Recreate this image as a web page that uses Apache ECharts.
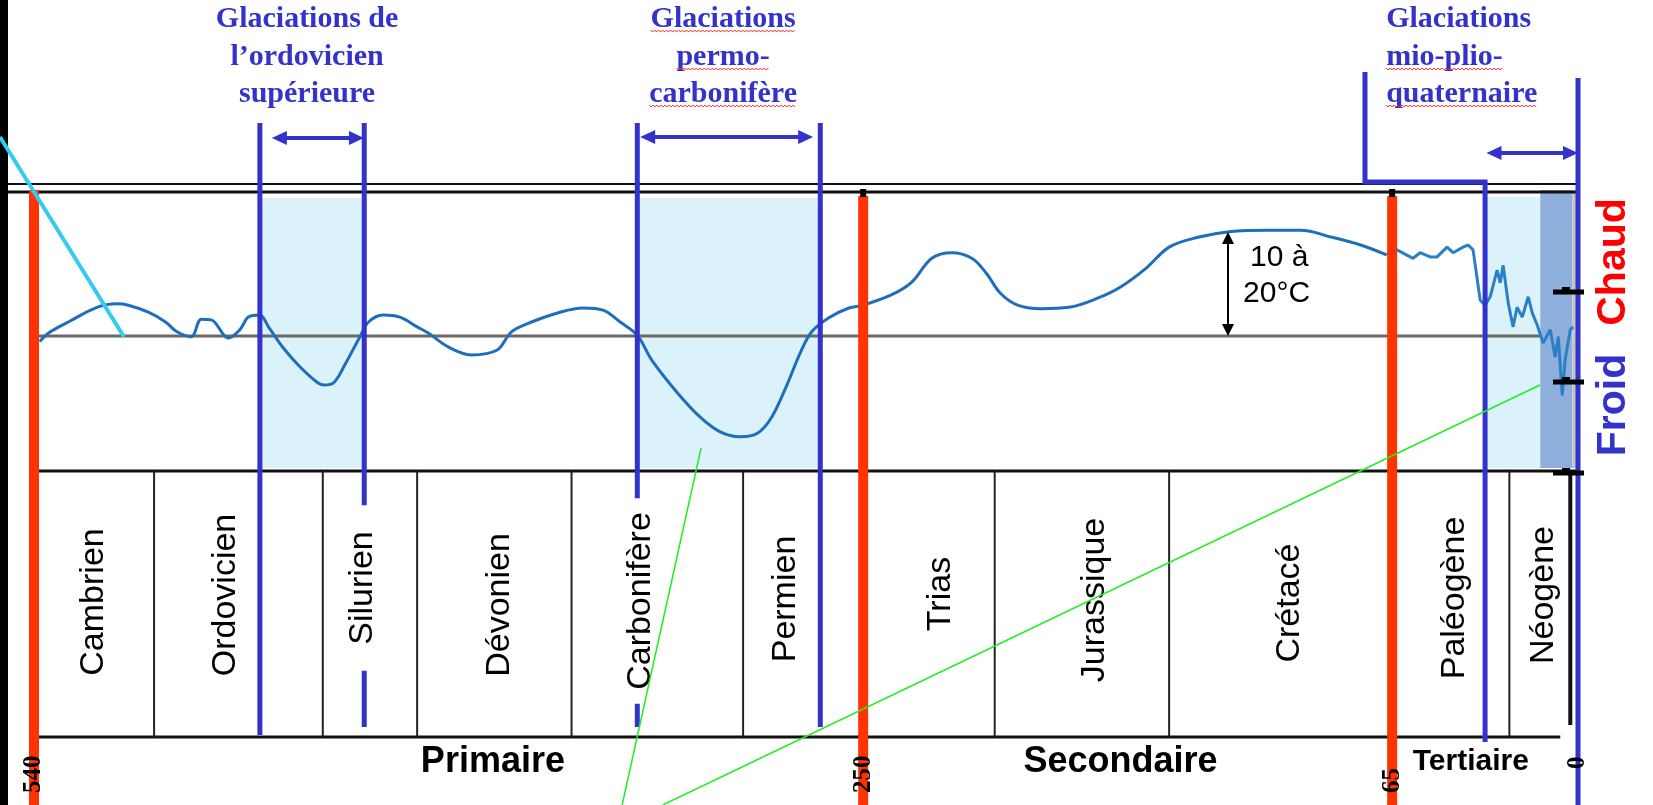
<!DOCTYPE html>
<html>
<head>
<meta charset="utf-8">
<title>Glaciations et climat depuis 540 Ma</title>
<script src="https://cdn.jsdelivr.net/npm/echarts@6/dist/echarts.min.js"></script>
<style>
  html, body { margin: 0; padding: 0; background: #fff; }
  #chart { width: 1653px; height: 805px; }
</style>
</head>
<body>
<div id="chart"></div>
<script>
// ages in Ma (millions d'années), temperature as anomaly in °C vs today
var curveAges = [538, 535, 528, 518, 511, 507, 500, 494, 490, 485, 481.5, 478, 472, 468, 465, 461, 458, 453, 447, 441,
  438.5, 435, 431, 426, 423, 418, 412, 406, 402, 395, 387, 378, 373, 366, 356, 348, 341, 335, 329, 324,
  315, 307, 300, 293, 287, 282, 277, 272, 268, 262, 255, 250, 240, 233, 226, 219, 212, 207, 202, 196,
  188, 178, 168, 160, 151, 143, 133, 122, 108, 97, 86, 76, 67];
var curveTemps = [-0.8, 0.4, 2.0, 4.1, 4.6, 4.4, 3.4, 2.0, 0.6, -0.1, 2.4, 2.3, -0.3, 0.9, 2.7, 3.0, 1.3, -1.6, -4.4, -6.6,
  -7.0, -6.6, -3.9, -0.1, 2.0, 3.0, 2.7, 1.3, 0.4, -1.6, -2.7, -2.0, 0.6, 2.0, 3.4, 4.0, 3.7, 2.0, 0.1, -3.4,
  -8.1, -11.6, -13.7, -14.4, -13.9, -11.6, -7.3, -2.4, 0.6, 2.6, 4.0, 4.4, 5.9, 7.7, 11.1, 11.9, 11.1, 9.0, 6.1, 4.4,
  3.9, 4.1, 5.4, 7.0, 9.7, 12.7, 14.1, 14.9, 15.1, 15.1, 14.1, 13.0, 11.6];
var cenoAges = [67, 63.3, 57.7, 55.2, 51.7, 49.3, 45.8, 43.7, 40.2, 38.4, 36.7, 34.2, 32.5, 30.7, 28.3, 27.2, 26.2, 24.4, 22.7, 21.3,
  19.5, 17.4, 16.0, 14.3, 12.2, 9.7, 8.0, 6.9, 5.5, 4.5, 2.7, 1.7];
var cenoTemps = [11.6, 12.3, 11.1, 11.9, 11.3, 11.3, 12.7, 11.9, 12.7, 13.0, 12.3, 5.1, 4.4, 5.6, 9.4, 7.6, 10.1, 4.7, 1.3, 4.1,
  2.7, 5.6, 3.3, 1.6, -1.0, 0.9, -3.0, -0.1, -8.5, -3.4, 0.9, 1.3];

var eraBounds = [540, 250, 65];
var eraNames = ['Primaire', 'Secondaire', 'Tertiaire'];
var eraLabelAt = [379.5, 160, 37.5];
var axisTicks = [540, 250, 65, 0];

var periodBounds = [498, 439, 406, 352, 292, 204, 143, 24];
var periodNames = ['Cambrien', 'Ordovicien', 'Silurien', 'Dévonien', 'Carbonifère', 'Permien',
  'Trias', 'Jurassique', 'Crétacé', 'Paléogène', 'Néogène'];
var periodLabelAt = [519, 473, 425, 377, 328, 277, 223, 169, 101, 43, 12];

var glacTitles = [['Glaciations de', 'l\u2019ordovicien', 'supérieure'],
  ['Glaciations', 'permo-', 'carbonifère'],
  ['Glaciations', 'mio-plio-', 'quaternaire']];
var glacStart = [461, 329, 32.5];
var glacEnd = [424.5, 265, 0];
var arrowFrom = [456.8, 328, 32];
var arrowTo = [424.6, 267.5, 0];
var coldBand = [13.2, 2];
var amplitudeAt = 122.4;

var BLUE = '#3333cc', RED = '#ff3300', LIGHT = '#dcf2fb', DARK = '#8eaedb';
var SANS = '"Liberation Sans", Arial, sans-serif';
var SERIF = '"Liberation Serif", "Times New Roman", serif';

var chart = echarts.init(document.getElementById('chart'));
var mctx = document.createElement('canvas').getContext('2d');
function textWidth(t, font) { mctx.font = font; return mctx.measureText(t).width; }

function X(api, t) { return api.coord([t, 0])[0]; }
function seg(x1, y1, x2, y2, color, w) {
  return { type: 'line', shape: { x1: x1, y1: y1, x2: x2, y2: y2 }, style: { stroke: color, lineWidth: w } };
}
function rect(x1, x2, y1, y2, fill) {
  return { type: 'rect', shape: { x: Math.min(x1, x2), y: y1, width: Math.abs(x2 - x1), height: y2 - y1 }, style: { fill: fill } };
}
function hArrow(x1, x2, y, color, w, hl, hw) {
  return [seg(x1 + hl - 2, y, x2 - hl + 2, y, color, w),
    { type: 'polygon', shape: { points: [[x1, y], [x1 + hl, y - hw], [x1 + hl, y + hw]] }, style: { fill: color } },
    { type: 'polygon', shape: { points: [[x2, y], [x2 - hl, y - hw], [x2 - hl, y + hw]] }, style: { fill: color } }];
}
function vArrow(x, y1, y2, color, w, hl, hw) {
  return [seg(x, y1 + hl - 2, x, y2 - hl + 2, color, w),
    { type: 'polygon', shape: { points: [[x, y1], [x - hw, y1 + hl], [x + hw, y1 + hl]] }, style: { fill: color } },
    { type: 'polygon', shape: { points: [[x, y2], [x - hw, y2 - hl], [x + hw, y2 - hl]] }, style: { fill: color } }];
}
function wavy(x1, x2, y) {
  var pts = [];
  for (var x = x1, k = 0; x <= x2; x += 2, k++) pts.push([x, y + (k % 2 ? 2 : 0)]);
  return { type: 'polyline', shape: { points: pts }, style: { stroke: '#ff2222', lineWidth: 1, fill: null } };
}
function txt(x, y, s, font, fill, align, vAlign, rot, extra) {
  var st = { text: s, font: font, fill: fill, align: align, verticalAlign: vAlign };
  if (extra) for (var k in extra) st[k] = extra[k];
  return { type: 'text', x: x, y: y, rotation: rot || 0, style: st };
}

function layer(z, fn) {
  return {
    type: 'custom', xAxisIndex: 1, yAxisIndex: 1, z: z, clip: false, silent: true,
    data: [[0, 0]],
    renderItem: function (params, api) { return { type: 'group', children: fn(api) }; }
  };
}

var shading = layer(1, function (api) {
  return [
    rect(X(api, glacStart[0]), X(api, glacEnd[0]), 198, 468, LIGHT),
    rect(X(api, glacStart[1]), X(api, glacEnd[1]), 198, 468, LIGHT),
    rect(X(api, glacStart[2]), X(api, coldBand[0]), 197, 468, LIGHT),
    rect(X(api, coldBand[0]), X(api, coldBand[1]), 190, 468, DARK),
    rect(X(api, coldBand[1]), X(api, glacEnd[2]), 190, 468, '#c4c4c4')
  ];
});

var frame = layer(2, function (api) {
  var k = [];
  var x0 = X(api, 0), xL = X(api, 540);
  k.push(rect(0, 8, 0, 805, '#000'));
  k.push(seg(8, 184, x0, 184, '#111', 2));
  k.push(seg(8, 192, x0, 192, '#111', 3));
  k.push(seg(xL, 471, x0, 471, '#111', 3));
  k.push(seg(xL, 737, X(api, 6.2), 737, '#111', 3));
  periodBounds.forEach(function (b) { k.push(seg(X(api, b), 471, X(api, b), 737, '#222', 2)); });
  k.push(seg(X(api, 2.7), 471, X(api, 2.7), 725, '#111', 4));
  return k;
});

var markers = layer(4, function (api) {
  var k = [];
  eraBounds.forEach(function (b, i) {
    var x = X(api, b);
    k.push(seg(x, i === 0 ? 190 : 196, x, 805, RED, 10));
    if (i > 0) k.push(rect(x - 3, x + 3, 189, 197, '#000'));
  });
  // glaciation limits
  k.push(seg(X(api, glacStart[0]), 123, X(api, glacStart[0]), 735, BLUE, 5));
  k.push(seg(X(api, glacEnd[0]), 123, X(api, glacEnd[0]), 727, BLUE, 5));
  k.push(seg(X(api, glacStart[1]), 123, X(api, glacStart[1]), 727, BLUE, 5));
  k.push(seg(X(api, glacEnd[1]), 123, X(api, glacEnd[1]), 727, BLUE, 5));
  k.push({ type: 'polyline', shape: { points: [[X(api, 74.5), 72], [X(api, 74.5), 182], [X(api, glacStart[2]), 182], [X(api, glacStart[2]), 742]] },
    style: { stroke: BLUE, lineWidth: 5, fill: null } });
  k.push(seg(X(api, glacEnd[2]), 78, X(api, glacEnd[2]), 805, BLUE, 5));
  var ay = [138, 137, 153];
  for (var i = 0; i < 3; i++) {
    k = k.concat(hArrow(X(api, arrowFrom[i]), X(api, arrowTo[i]), ay[i], BLUE, 4, 15, 7));
  }
  // scale ticks on the right
  var x0 = X(api, 0);
  [292, 382, 473].forEach(function (y) {
    k.push(seg(x0 - 25, y, x0 + 6, y, '#000', 5));
    k.push(rect(x0 - 16, x0 - 8, y - 5, y, '#000'));
  });
  return k;
});

var texts = layer(6, function (api) {
  var k = [];
  var pFont = '34px ' + SANS;
  var pY = [602, 595, 588, 605, 601, 599, 594, 600, 603, 598, 595];
  periodNames.forEach(function (n, i) {
    k.push(txt(X(api, periodLabelAt[i]), pY[i], n, pFont, '#000', 'center', 'middle', Math.PI / 2,
      { backgroundColor: '#fff', padding: [0, i === 2 ? 26 : 14] }));
  });
  eraNames.forEach(function (n, i) {
    var f = (i === 2 ? 'bold 30px ' : 'bold 36px ') + SANS;
    k.push(txt(X(api, eraLabelAt[i]), 762, n, f, '#000', 'center', 'middle'));
  });
  // glaciation titles
  var tFont = 'bold 30px ' + SERIF;
  var tAt = [444.5, 299, 67.1], tAlign = ['center', 'center', 'left'];
  var mid = [19, 57, 94];
  glacTitles.forEach(function (lines, i) {
    var x = X(api, tAt[i]);
    lines.forEach(function (s, j) {
      k.push(txt(x, mid[j], s, tFont, BLUE, tAlign[i], 'middle'));
      if (i > 0 && !(i === 2 && j === 0)) {
        var w = textWidth(s, tFont);
        var x1 = tAlign[i] === 'center' ? x - w / 2 : x;
        k.push(wavy(x1, x1 + w, mid[j] + 11));
      }
    });
  });
  // amplitude arrow
  var xa = X(api, amplitudeAt);
  k = k.concat(vArrow(xa, 232, 336, '#000', 2, 12, 6));
  k.push(txt(xa + 22, 258, '10 à', '30px ' + SANS, '#000', 'left', 'middle'));
  k.push(txt(xa + 15, 294, '20°C', '30px ' + SANS, '#000', 'left', 'middle'));
  var x0 = X(api, 0);
  k.push(txt(x0 + 36, 262, 'Chaud', 'bold 41px ' + SANS, '#ff0000', 'center', 'middle', Math.PI / 2));
  k.push(txt(x0 + 36, 405, 'Froid', 'bold 41px ' + SANS, BLUE, 'center', 'middle', Math.PI / 2));
  return k;
});

var pointers = layer(8, function (api) {
  return [
    seg(0, 137, X(api, 508.5), 337, '#33ccee', 4),
    seg(X(api, 306.7), 448, X(api, 334.3), 805, '#22ee22', 1.5),
    seg(X(api, 13.3), 385, X(api, 320.1), 805, '#22ee22', 1.5)
  ];
});

var zeroLine = {
  type: 'custom', xAxisIndex: 0, yAxisIndex: 0, z: 2, clip: false, silent: true,
  data: [[0, 0]],
  renderItem: function (params, api) {
    var a = api.coord([540, 0]), b = api.coord([coldBand[0], 0]);
    return seg(a[0], a[1], b[0], b[1], '#6f6862', 3);
  }
};

function zip(a, b) { return a.map(function (v, i) { return [v, b[i]]; }); }

var option = {
  backgroundColor: '#fff',
  animation: false,
  grid: [
    { left: 34, right: 75, top: 196, height: 280 },
    { left: 34, right: 75, top: 0, bottom: 0 }
  ],
  xAxis: [
    { gridIndex: 0, type: 'value', min: 0, max: 540, inverse: true, show: false },
    { gridIndex: 1, type: 'value', min: 0, max: 540, inverse: true, z: 20,
      axisLine: { show: false }, axisTick: { show: false }, splitLine: { show: false },
      axisLabel: { inside: true, rotate: 90, margin: 12, customValues: axisTicks,
        fontFamily: SERIF, fontWeight: 'bold', fontSize: 25, color: '#000',
        formatter: function (v) { return v === 0 ? '{z|0}' : String(v); },
        rich: { z: { fontFamily: SERIF, fontWeight: 'bold', fontSize: 25, color: '#000', padding: [0, 0, 0, 24] } } } }
  ],
  yAxis: [
    { gridIndex: 0, type: 'value', min: -20, max: 20, show: false },
    { gridIndex: 1, type: 'value', min: 0, max: 805, inverse: true, show: false }
  ],
  series: [
    shading, frame, zeroLine,
    { type: 'line', xAxisIndex: 0, yAxisIndex: 0, z: 3, data: zip(curveAges, curveTemps),
      smooth: 0.35, showSymbol: false, silent: true, lineStyle: { color: '#1e6ebe', width: 3 } },
    { type: 'line', xAxisIndex: 0, yAxisIndex: 0, z: 3, data: zip(cenoAges, cenoTemps),
      showSymbol: false, silent: true, lineStyle: { color: '#2a80c6', width: 3 } },
    markers, texts, pointers
  ]
};
chart.setOption(option);
</script>
</body>
</html>
